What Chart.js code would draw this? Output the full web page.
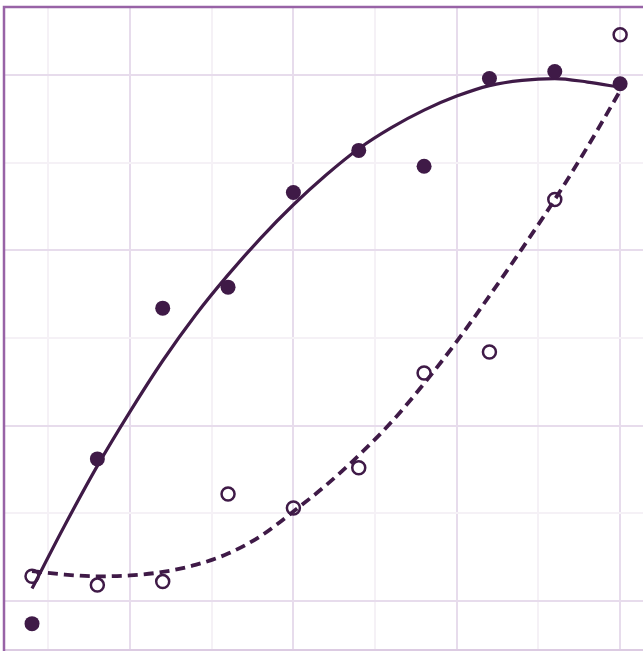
<!DOCTYPE html>
<html>
<head>
<meta charset="utf-8">
<title>Fit curves</title>
<script src="https://cdn.jsdelivr.net/npm/chart.js@4/dist/chart.umd.min.js"></script>
<style>
  html, body { margin: 0; padding: 0; background: #fff; }
  #wrap { width: 643px; height: 652px; }
</style>
</head>
<body>
<div id="wrap"><canvas id="fitChart" width="643" height="652"></canvas></div>
<script>
'use strict';

// data
const xValues = [1, 2, 3, 4, 5, 6, 7, 8, 9, 10];
const filledY = [-0.13, 0.81, 1.67, 1.79, 2.33, 2.57, 2.48, 2.98, 3.02, 2.95];
const openY = [0.14, 0.09, 0.11, 0.61, 0.53, 0.76, 1.30, 1.42, 2.29, 3.23];

// fitted curves, read every half step
const fitX = [1, 1.5, 2, 2.5, 3, 3.5, 4, 4.5, 5, 5.5, 6, 6.5, 7, 7.5, 8, 8.5, 9, 9.5, 10];
const solidFitY = [0.07, 0.43, 0.77, 1.08, 1.37, 1.63, 1.86, 2.07, 2.26, 2.43, 2.58, 2.70, 2.80, 2.88, 2.94, 2.97, 2.98, 2.96, 2.93];
const dashedFitY = [0.17, 0.15, 0.14, 0.145, 0.165, 0.205, 0.27, 0.37, 0.51, 0.66, 0.83, 1.02, 1.24, 1.48, 1.74, 2.01, 2.29, 2.59, 2.91];

// grid positions
const xTicks = [1.25, 2.5, 3.75, 5, 6.25, 7.5, 8.75, 10];
const yTicks = [0, 0.5, 1, 1.5, 2, 2.5, 3];

const ink = '#3f1a47';
const majorGrid = '#e7dcec';
const minorGrid = '#f5f1f6';

const pts = (xs, ys) => xs.map((x, i) => ({ x, y: ys[i] }));

// frame: darker left/top edges, light bottom edge
const framePlugin = {
  id: 'frame',
  beforeDatasetsDraw(c) {
    const a = c.chartArea, ctx = c.ctx;
    ctx.save();
    ctx.strokeStyle = '#dccbe2';
    ctx.lineWidth = 2;
    ctx.beginPath();
    ctx.moveTo(a.left, a.bottom - 1);
    ctx.lineTo(a.right, a.bottom - 1);
    ctx.stroke();
    ctx.strokeStyle = '#9863a6';
    ctx.lineWidth = 2.5;
    ctx.beginPath();
    ctx.moveTo(a.left + 1, a.bottom);
    ctx.lineTo(a.left + 1, a.top + 1);
    ctx.lineTo(a.right, a.top + 1);
    ctx.stroke();
    ctx.restore();
  }
};

const isMajor = (v, step) => Math.abs(v / step - Math.round(v / step)) < 1e-6;

new Chart(document.getElementById('fitChart').getContext('2d'), {
  type: 'line',
  data: {
    datasets: [
      {
        label: 'filled',
        data: pts(xValues, filledY),
        showLine: false,
        pointRadius: 7.5,
        pointBackgroundColor: ink,
        pointBorderWidth: 0,
        clip: false,
        order: 1
      },
      {
        label: 'open',
        data: pts(xValues, openY),
        showLine: false,
        pointRadius: 6.5,
        pointBackgroundColor: 'rgba(255,255,255,0)',
        pointBorderColor: ink,
        pointBorderWidth: 2.5,
        clip: false,
        order: 2
      },
      {
        label: 'solid fit',
        data: pts(fitX, solidFitY),
        borderColor: ink,
        borderWidth: 3.2,
        pointRadius: 0,
        cubicInterpolationMode: 'monotone',
        fill: false,
        order: 3
      },
      {
        label: 'dashed fit',
        data: pts(fitX, dashedFitY),
        borderColor: ink,
        borderWidth: 3.8,
        borderDash: [10, 6],
        pointRadius: 0,
        cubicInterpolationMode: 'monotone',
        fill: false,
        order: 4
      }
    ]
  },
  options: {
    responsive: false,
    animation: false,
    layout: { autoPadding: false, padding: { left: 3, top: 6, right: 0, bottom: 1 } },
    plugins: { legend: { display: false }, tooltip: { enabled: false } },
    scales: {
      x: {
        type: 'linear',
        min: 0.556,
        max: 10.35,
        afterBuildTicks: s => { s.ticks = xTicks.map(v => ({ value: v })); },
        afterFit: s => { s.height = 0; },
        ticks: { display: false },
        border: { display: false },
        grid: {
          drawTicks: false,
          lineWidth: 2,
          color: ctx => isMajor(ctx.tick.value, 2.5) ? majorGrid : minorGrid
        }
      },
      y: {
        type: 'linear',
        min: -0.286,
        max: 3.394,
        afterBuildTicks: s => { s.ticks = yTicks.map(v => ({ value: v })); },
        afterFit: s => { s.width = 0; },
        ticks: { display: false },
        border: { display: false },
        grid: {
          drawTicks: false,
          lineWidth: 2,
          color: ctx => isMajor(ctx.tick.value, 1) ? majorGrid : minorGrid
        }
      }
    }
  },
  plugins: [framePlugin]
});
</script>
</body>
</html>
